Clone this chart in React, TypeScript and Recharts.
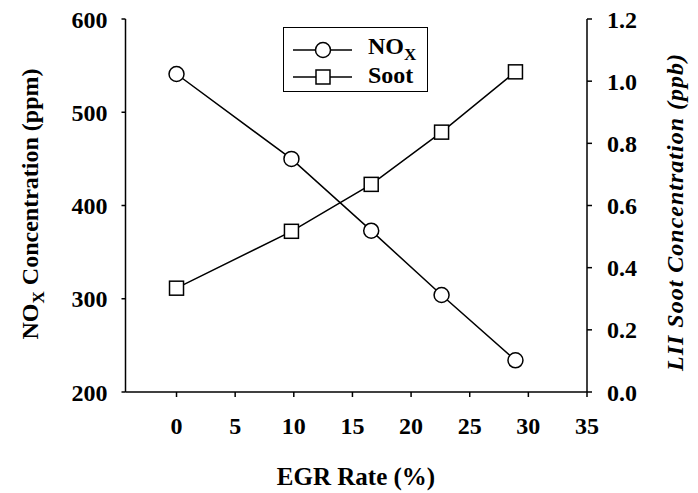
import React from 'react';
import { ComposedChart, Line, XAxis, YAxis, Legend } from 'recharts';

const egrRate = [0, 9.8, 16.6, 22.6, 28.9];
const noxPpm = [541, 450, 373, 304, 234];
const sootPpb = [0.334, 0.517, 0.668, 0.836, 1.03];
const xTicks = [0, 5, 10, 15, 20, 25, 30, 35];
const noxTicks = [200, 300, 400, 500, 600];
const sootTicks = [0, 0.2, 0.4, 0.6, 0.8, 1.0, 1.2];

const data = egrRate.map((x, i) => ({ x, nox: noxPpm[i], soot: sootPpb[i] }));

const FONT = 'Liberation Serif';
const tickStyle = { fontFamily: FONT, fontWeight: 700, fontSize: 24, fill: '#000' };

const CircleDot = (props: any) => {
  const { cx, cy } = props;
  if (cx == null || cy == null) return null;
  return <circle cx={cx} cy={cy} r={7.5} fill="#fff" stroke="#000" strokeWidth={1.5} />;
};
const SquareDot = (props: any) => {
  const { cx, cy } = props;
  if (cx == null || cy == null) return null;
  return <rect x={cx - 7} y={cy - 7} width={14} height={14} fill="#fff" stroke="#000" strokeWidth={1.5} />;
};

const leftLabel = () => (
  <text
    x={38}
    y={204}
    transform="rotate(-90 38 204)"
    textAnchor="middle"
    fontFamily={FONT}
    fontWeight={700}
    fontSize={24}
    fill="#000"
  >
    <tspan>NO</tspan>
    <tspan dy={6} fontSize={17}>X</tspan>
    <tspan dy={-6}> Concentration (ppm)</tspan>
  </text>
);

const rightLabel = () => (
  <text
    x={683}
    y={212}
    transform="rotate(-90 683 212)"
    textAnchor="middle"
    fontFamily={FONT}
    fontWeight={700}
    fontStyle="italic"
    fontSize={24}
    letterSpacing={1}
    fill="#000"
  >
    LII Soot Concentration (ppb)
  </text>
);

const bottomLabel = () => (
  <text x={356} y={485} textAnchor="middle" fontFamily={FONT} fontWeight={700} fontSize={25} fill="#000">
    EGR Rate (%)
  </text>
);

const LegendBox = () => (
  <div
    style={{
      width: 145,
      height: 65,
      boxSizing: 'border-box',
      border: '1.5px solid #000',
      background: '#fff',
      position: 'relative',
      fontFamily: FONT,
      fontWeight: 700,
      fontSize: 24,
      color: '#000',
    }}
  >
    <svg width={80} height={65} style={{ position: 'absolute', left: 0, top: 0 }}>
      <line x1={9} y1={22} x2={68} y2={22} stroke="#000" strokeWidth={1.5} />
      <circle cx={39} cy={22} r={7.5} fill="#fff" stroke="#000" strokeWidth={1.5} />
      <line x1={9} y1={49} x2={68} y2={49} stroke="#000" strokeWidth={1.5} />
      <rect x={32} y={42} width={14} height={14} fill="#fff" stroke="#000" strokeWidth={1.5} />
    </svg>
    <div style={{ position: 'absolute', left: 84, top: 6, lineHeight: '24px', whiteSpace: 'nowrap' }}>
      NO<span style={{ fontSize: 17, position: 'relative', top: 6 }}>X</span>
    </div>
    <div style={{ position: 'absolute', left: 84, top: 35, lineHeight: '24px' }}>Soot</div>
  </div>
);

export default function App() {
  return (
    <div style={{ position: 'absolute', left: 0, top: 0, background: '#fff' }}>
      <ComposedChart
        width={698}
        height={493}
        data={data}
        margin={{ top: 19, right: 0, bottom: 41, left: 0 }}
      >
        <XAxis
          xAxisId="top"
          orientation="top"
          type="number"
          dataKey="x"
          domain={[-4.35, 35]}
          ticks={xTicks}
          height={0}
          mirror
          tick={false}
          tickSize={5}
          axisLine={{ stroke: '#000', strokeWidth: 1.5 }}
          tickLine={{ stroke: '#000', strokeWidth: 1.5 }}
          allowDataOverflow
        />
        <XAxis
          xAxisId="bottom"
          type="number"
          dataKey="x"
          domain={[-4.35, 35]}
          ticks={xTicks}
          height={60}
          tickSize={5}
          tickMargin={20}
          tick={tickStyle}
          axisLine={{ stroke: '#000', strokeWidth: 1.5 }}
          tickLine={{ stroke: '#000', strokeWidth: 1.5 }}
          allowDataOverflow
          label={bottomLabel}
        />
        <YAxis
          yAxisId="left"
          orientation="left"
          domain={[200, 600]}
          ticks={noxTicks}
          width={125.5}
          tickSize={4}
          tickMargin={14}
          tick={tickStyle}
          axisLine={{ stroke: '#000', strokeWidth: 1.5 }}
          tickLine={{ stroke: '#000', strokeWidth: 1.5 }}
          allowDataOverflow
          label={leftLabel}
        />
        <YAxis
          yAxisId="right"
          orientation="right"
          domain={[0, 1.2]}
          ticks={sootTicks}
          tickFormatter={(v: number) => v.toFixed(1)}
          width={111}
          tickSize={5}
          tickMargin={15}
          tick={tickStyle}
          axisLine={{ stroke: '#000', strokeWidth: 1.5 }}
          tickLine={{ stroke: '#000', strokeWidth: 1.5 }}
          allowDataOverflow
          label={rightLabel}
        />
        <Legend
          layout="horizontal"
          verticalAlign="middle"
          align="center"
          content={() => <LegendBox />}
          wrapperStyle={{ position: 'absolute', left: 283, top: 27, width: 145, height: 65 }}
        />
        <Line
          xAxisId="bottom"
          yAxisId="left"
          dataKey="nox"
          stroke="#000"
          strokeWidth={1.5}
          dot={<CircleDot />}
          activeDot={false}
          isAnimationActive={false}
        />
        <Line
          xAxisId="bottom"
          yAxisId="right"
          dataKey="soot"
          stroke="#000"
          strokeWidth={1.5}
          dot={<SquareDot />}
          activeDot={false}
          isAnimationActive={false}
        />
      </ComposedChart>
    </div>
  );
}
